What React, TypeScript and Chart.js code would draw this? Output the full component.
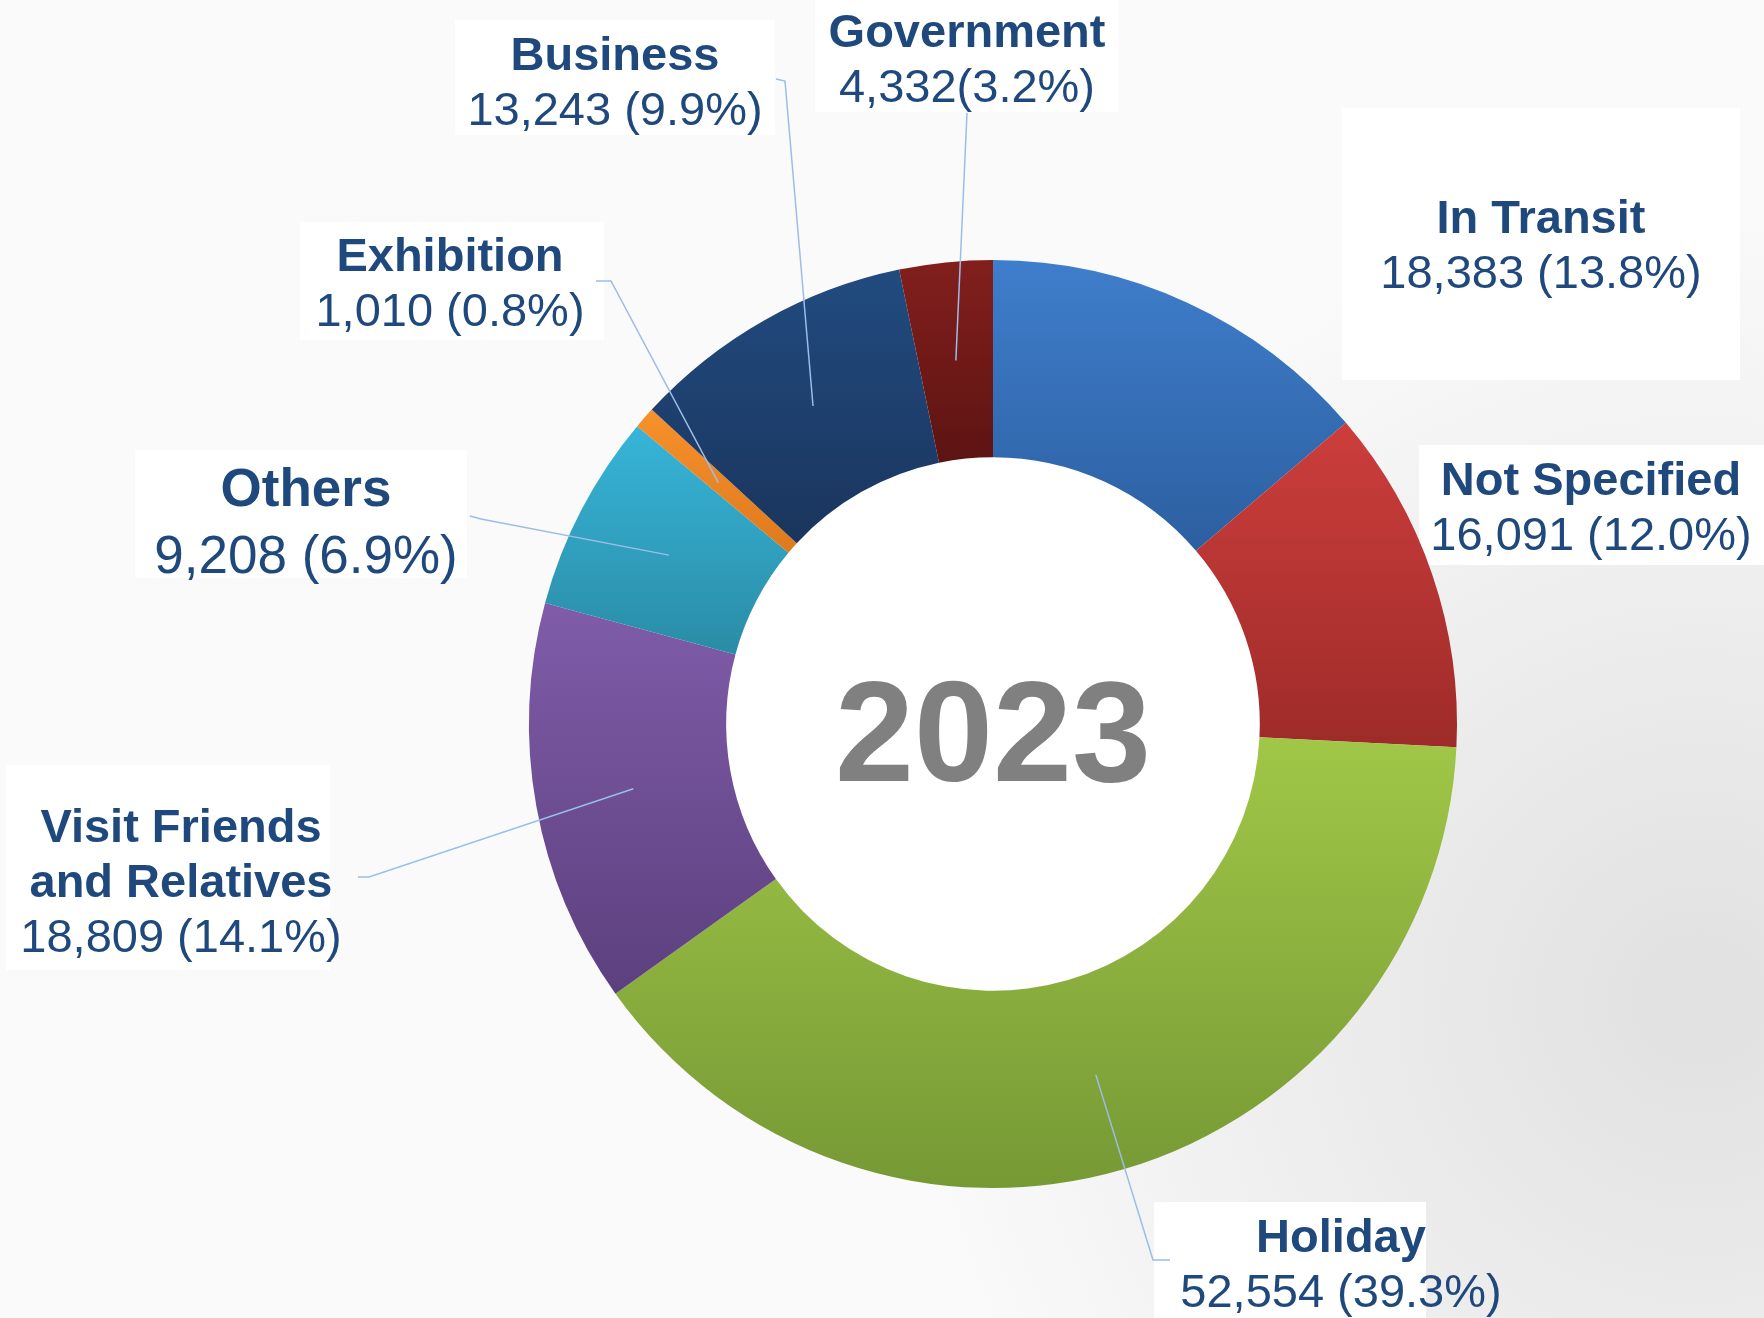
import React, { useEffect, useRef } from "react";
import { Chart, registerables } from "chart.js";

Chart.register(...registerables);

// ---- data ----
const categories = [
  "In Transit",
  "Not Specified",
  "Holiday",
  "Visit Friends and Relatives",
  "Others",
  "Exhibition",
  "Business",
  "Government",
];
const visitors = [18383, 16091, 52554, 18809, 9208, 1010, 13243, 4332];
const titleLines = [
  ["In Transit"],
  ["Not Specified"],
  ["Holiday"],
  ["Visit Friends", "and Relatives"],
  ["Others"],
  ["Exhibition"],
  ["Business"],
  ["Government"],
];
const valueLabels = [
  "18,383 (13.8%)",
  "16,091 (12.0%)",
  "52,554 (39.3%)",
  "18,809 (14.1%)",
  "9,208 (6.9%)",
  "1,010 (0.8%)",
  "13,243 (9.9%)",
  "4,332(3.2%)",
];
const centerLabel = "2023";

// ---- styles ----
const topColors = ["#3f7ecc", "#cc3e3c", "#a0c747", "#805ca9", "#37b5d9", "#f7912b", "#214b7f", "#821f1d"];
const bottomColors = ["#2c5fa0", "#9e2b29", "#769935", "#5c407e", "#2a8ca6", "#de7a1e", "#1a355d", "#5c1412"];
const CUTOUT = 0.575;
const TEXT_COLOR = "#1f497d";
const LEADER_COLOR = "#9bbde8";
const FONT = '"Liberation Sans", Arial, sans-serif';

// label layout: text centre x, first line y, font size, white box, leader elbow points (label side first)
const labelLayout = [
  { x: 1541, y: 220, size: 47, box: [1342, 108, 1740, 380], leader: [] },
  { x: 1591, y: 482, size: 47, box: [1419, 445, 1764, 565], leader: [] },
  { x: 1341, y: 1239, size: 47, box: [1154, 1202, 1426, 1318], leader: [[1170, 1260], [1153, 1260]] },
  { x: 181, y: 829, size: 47, box: [6, 765, 330, 970], leader: [[358, 877], [369, 877]] },
  { x: 306, y: 491, size: 53, box: [135, 450, 467, 578], leader: [[470, 516], [481, 519]] },
  { x: 450, y: 258, size: 47, box: [300, 222, 604, 340], leader: [[596, 281], [611, 281]] },
  { x: 615, y: 57, size: 47, box: [455, 20, 775, 135], leader: [[776, 79], [785, 81]] },
  { x: 967, y: 34, size: 47, box: [815, 0, 1118, 112], leader: [[967, 113]] },
];
const LINE_GAP = 55;

const total = visitors.reduce((a, b) => a + b, 0);

function sliceGradient(ctx: any) {
  const chart = ctx.chart;
  const i = ctx.dataIndex;
  const area = chart.chartArea;
  if (!area || i == null) return topColors[i ?? 0];
  const cx = (area.left + area.right) / 2;
  const cy = (area.top + area.bottom) / 2;
  const R = Math.min(area.width, area.height) / 2;
  const r = R * CUTOUT;
  let before = 0;
  for (let k = 0; k < i; k++) before += visitors[k];
  const a0 = -Math.PI / 2 + (before / total) * Math.PI * 2;
  const a1 = a0 + (visitors[i] / total) * Math.PI * 2;
  let minY = Infinity;
  let maxY = -Infinity;
  for (let s = 0; s <= 60; s++) {
    const a = a0 + ((a1 - a0) * s) / 60;
    for (const rad of [r, R]) {
      const y = cy + Math.sin(a) * rad;
      minY = Math.min(minY, y);
      maxY = Math.max(maxY, y);
    }
  }
  if (!(maxY > minY)) maxY = minY + 1;
  const g = chart.ctx.createLinearGradient(0, minY, 0, maxY);
  g.addColorStop(0, topColors[i]);
  g.addColorStop(1, bottomColors[i]);
  return g;
}

const backgroundPlugin = {
  id: "bgPlugin",
  beforeDraw(chart: any) {
    const c = chart.ctx;
    const w = chart.width;
    const h = chart.height;
    c.save();
    c.fillStyle = "#fafafa";
    c.fillRect(0, 0, w, h);
    const rg = c.createRadialGradient(1700, 1000, 50, 1700, 1000, 800);
    rg.addColorStop(0, "rgba(190,190,190,0.4)");
    rg.addColorStop(1, "rgba(190,190,190,0)");
    c.fillStyle = rg;
    c.fillRect(0, 0, w, h);
    c.fillStyle = "#ffffff";
    labelLayout.forEach((l) => {
      const [x0, y0, x1, y1] = l.box;
      c.fillRect(x0, y0, x1 - x0, y1 - y0);
    });
    // white donut hole
    const area = chart.chartArea;
    const R = Math.min(area.width, area.height) / 2;
    c.beginPath();
    c.arc((area.left + area.right) / 2, (area.top + area.bottom) / 2, R * CUTOUT + 2, 0, Math.PI * 2);
    c.fill();
    c.restore();
  },
};

const labelPlugin = {
  id: "labelPlugin",
  afterDatasetsDraw(chart: any) {
    const c = chart.ctx;
    const meta = chart.getDatasetMeta(0);
    c.save();
    meta.data.forEach((arc: any, i: number) => {
      const p = arc.getProps(["x", "y", "startAngle", "endAngle", "innerRadius", "outerRadius"], true);
      const mid = (p.startAngle + p.endAngle) / 2;
      const rr = (p.innerRadius + p.outerRadius) / 2;
      const ax = p.x + Math.cos(mid) * rr;
      const ay = p.y + Math.sin(mid) * rr;
      const l = labelLayout[i];
      if (l.leader.length) {
        c.strokeStyle = LEADER_COLOR;
        c.lineWidth = 1.5;
        c.beginPath();
        c.moveTo(l.leader[0][0], l.leader[0][1]);
        for (let k = 1; k < l.leader.length; k++) c.lineTo(l.leader[k][0], l.leader[k][1]);
        c.lineTo(ax, ay);
        c.stroke();
      }
      c.fillStyle = TEXT_COLOR;
      c.textAlign = "center";
      c.textBaseline = "middle";
      const lines = titleLines[i];
      const gap = LINE_GAP * (l.size / 47) * (l.size > 47 ? 1.08 : 1);
      c.font = `bold ${l.size}px ${FONT}`;
      lines.forEach((t, k) => c.fillText(t, l.x, l.y + k * gap));
      c.font = `${l.size}px ${FONT}`;
      c.fillText(valueLabels[i], l.x, l.y + lines.length * gap);
    });
    const area = chart.chartArea;
    c.fillStyle = "#808080";
    c.font = `bold 142px ${FONT}`;
    c.textAlign = "center";
    c.textBaseline = "middle";
    c.fillText(centerLabel, (area.left + area.right) / 2, (area.top + area.bottom) / 2 + 18);
    c.restore();
  },
};

export default function App() {
  const ref = useRef<HTMLCanvasElement | null>(null);
  useEffect(() => {
    if (!ref.current) return;
    const chart = new Chart(ref.current, {
      type: "doughnut",
      data: {
        labels: categories,
        datasets: [
          {
            data: visitors,
            backgroundColor: sliceGradient as any,
            borderWidth: 0,
          },
        ],
      },
      options: {
        responsive: false,
        animation: false,
        cutout: `${CUTOUT * 100}%`,
        rotation: 0,
        layout: { padding: { left: 529, right: 307, top: 260, bottom: 130 } },
        plugins: {
          legend: { display: false },
          tooltip: { enabled: false },
        },
      },
      plugins: [backgroundPlugin, labelPlugin],
    });
    return () => chart.destroy();
  }, []);
  return (
    <div style={{ position: "fixed", left: 0, top: 0, width: 1764, height: 1318 }}>
      <canvas ref={ref} width={1764} height={1318} style={{ width: 1764, height: 1318, display: "block" }} />
    </div>
  );
}
